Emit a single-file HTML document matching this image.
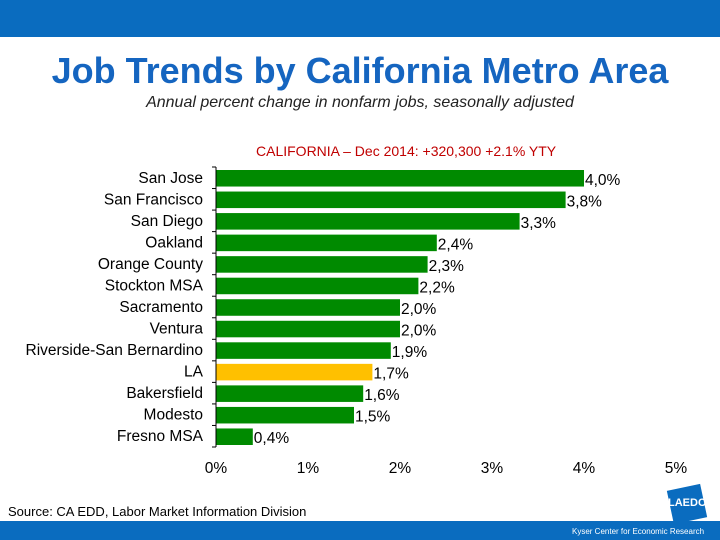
<!DOCTYPE html>
<html><head><meta charset="utf-8"><style>
body{margin:0;width:720px;height:540px;position:relative;background:#fff;font-family:"Liberation Sans",sans-serif;overflow:hidden}
.abs{position:absolute}
</style></head><body>
<div class="abs" style="left:0;top:0;width:720px;height:37px;background:#0a6cbf"></div>
<div class="abs" style="left:0;top:50px;width:720px;text-align:center;font-size:36px;font-weight:bold;color:#1565c0">Job Trends by California Metro Area</div>
<div class="abs" style="left:0;top:94px;width:720px;text-align:center;font-size:16px;font-style:italic;color:#222">Annual percent change in nonfarm jobs, seasonally adjusted</div>
<div class="abs" style="left:256px;top:143px;font-size:14px;color:#c00000">CALIFORNIA – Dec 2014: +320,300 +2.1% YTY</div>
<svg class="abs" style="left:0;top:0" width="720" height="540" id="chart"></svg>
<div class="abs" style="left:8px;top:504px;font-size:13px;color:#000">Source: CA EDD, Labor Market Information Division</div>
<div class="abs" style="left:670px;top:487px;width:34px;height:34px;background:#0a6cbf;transform:rotate(-12deg)"></div>
<div class="abs" style="left:668px;top:497px;font-size:11px;font-weight:bold;color:#fff">LAEDC</div>
<div class="abs" style="left:0;top:521px;width:720px;height:19px;background:#0a6cbf"></div>
<div class="abs" style="left:572px;top:527px;font-size:8px;color:#fff">Kyser Center for Economic Research</div>
<script>
const categories=["San Jose","San Francisco","San Diego","Oakland","Orange County","Stockton MSA","Sacramento","Ventura","Riverside-San Bernardino","LA","Bakersfield","Modesto","Fresno MSA"];
const values=[4.0,3.8,3.3,2.4,2.3,2.2,2.0,2.0,1.9,1.7,1.6,1.5,0.4];
const valueLabels=["4,0%","3,8%","3,3%","2,4%","2,3%","2,2%","2,0%","2,0%","1,9%","1,7%","1,6%","1,5%","0,4%"];
const ticks=[0,1,2,3,4,5];
const tickLabels=["0%","1%","2%","3%","4%","5%"];
const svg=document.getElementById('chart');
const NS='http://www.w3.org/2000/svg';
const x0=216,xs=92,plotTop=167,plotBot=447;
const band=(plotBot-plotTop)/categories.length;
const X=v=>x0+v*xs, Y=i=>plotTop+i*band;
function mk(t,a){const e=document.createElementNS(NS,t);for(const k in a)e.setAttribute(k,a[k]);svg.appendChild(e);return e;}
categories.forEach((c,i)=>{
 const r=mk('rect',{x:x0,y:Y(i)+3,width:X(values[i])-x0,height:band-5,fill:c==='LA'?'#ffc000':'#008a00'});
 
 
 const l=mk('text',{x:X(values[i])+1,y:Y(i)+band/2+7,'font-size':15.5,fill:'#000'});
 l.textContent=valueLabels[i];
 
 
 const cl=mk('text',{x:203,y:Y(i)+band/2+5,'font-size':15.5,'text-anchor':'end',fill:'#000'});
 cl.textContent=c;
 
 
});
for(let i=0;i<=categories.length;i++){
 const t=mk('line',{x1:x0-4,x2:x0,y1:Y(i),y2:Y(i),stroke:'#000'});
 
 
}
const ax=mk('line',{x1:x0,x2:x0,y1:plotTop,y2:plotBot,stroke:'#000'});


ticks.forEach((t,i)=>{
 const e=mk('text',{x:X(t),y:473,'font-size':15.5,'text-anchor':'middle',fill:'#000'});
 e.textContent=tickLabels[i];
 
 
});
</script>
</body></html>
